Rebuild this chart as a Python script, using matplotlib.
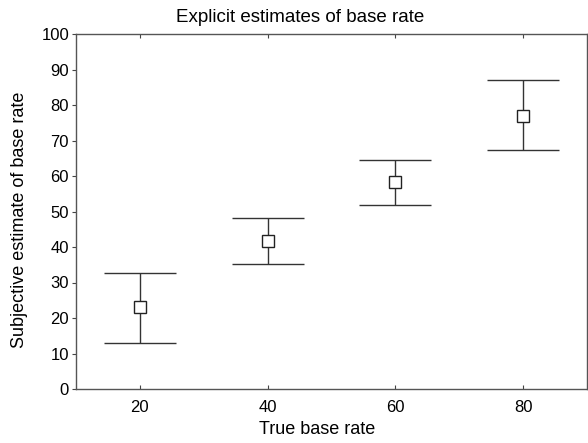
import matplotlib
matplotlib.use("Agg")
import matplotlib.pyplot as plt

true_rate = [20, 40, 60, 80]
mean_est = [23.2, 41.8, 58.2, 76.9]
upper = [32.8, 48.2, 64.6, 87.0]
lower = [13.0, 35.3, 51.7, 67.2]
x_ticks = [20, 40, 60, 80]
y_ticks = [0, 10, 20, 30, 40, 50, 60, 70, 80, 90, 100]

plt.rcParams['font.family'] = ['Liberation Sans', 'DejaVu Sans']

W, H = 588, 443
dpi = 100
fig = plt.figure(figsize=(W / dpi, H / dpi), dpi=dpi)
L, R, T, B = 76, 587, 34, 389
ax = fig.add_axes([L / W, 1 - B / H, (R - L) / W, (B - T) / H])

err_lo = [m - l for m, l in zip(mean_est, lower)]
err_hi = [u - m for m, u in zip(mean_est, upper)]
ax.errorbar(true_rate, mean_est, yerr=[err_lo, err_hi], fmt='s',
            color='#333333', ecolor='#333333', elinewidth=1.0,
            capsize=36 * 72 / dpi, capthick=1.0,
            markersize=8, markerfacecolor='white', markeredgecolor='#222222',
            markeredgewidth=1.0, zorder=3)

ax.set_xlim(10, 90)
ax.set_ylim(0, 100)
ax.set_xticks(x_ticks)
ax.set_yticks(y_ticks)
ax.tick_params(axis='x', direction='in', length=3, top=True, labelsize=12,
               pad=8, color='#444444')
ax.tick_params(axis='y', direction='out', length=3, right=False, labelsize=12,
               pad=2, color='#444444')
for s in ax.spines.values():
    s.set_color('#555555')
    s.set_linewidth(1.0)

fig.text(300 / W, 1 - 17 / H, 'Explicit estimates of base rate', ha='center',
         va='center', fontsize=13.5)
fig.text(317 / W, 1 - 429 / H, 'True base rate', ha='center', va='center',
         fontsize=13)
fig.text(20 / W, 1 - 220 / H, 'Subjective estimate of base rate', ha='center',
         va='center', rotation=90, fontsize=13)

fig.savefig('out.png', dpi=dpi)
